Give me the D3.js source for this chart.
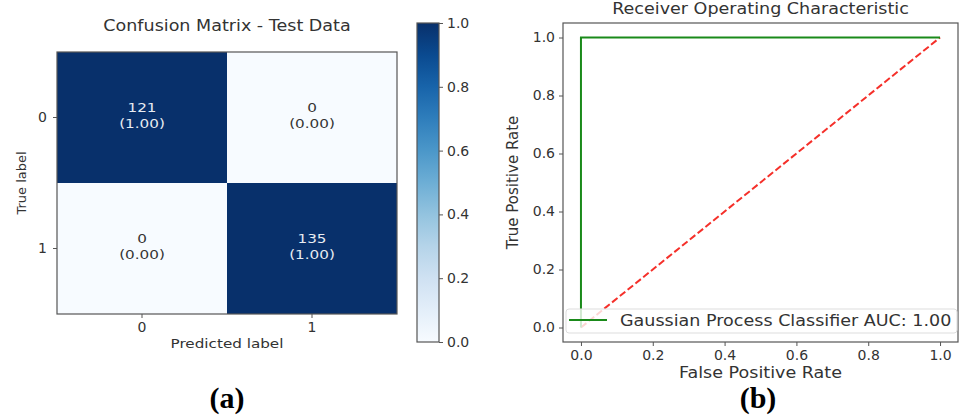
<!DOCTYPE html>
<html>
<head>
<meta charset="utf-8">
<script src="https://cdn.jsdelivr.net/npm/d3@7"></script>
<style>
  body { margin: 0; background: #fff; }
  svg text { font-family: "DejaVu Sans", sans-serif; fill: #333; }
</style>
</head>
<body>
<script>
// confusion matrix data
const classes = ["0", "1"];
const counts = [[121, 0], [0, 135]];
const normalized = [[1.00, 0.00], [0.00, 1.00]];
const colorbarTicks = [0, 0.2, 0.4, 0.6, 0.8, 1.0];

// roc data
const fpr = [0, 0, 1];
const tpr = [0, 1, 1];
const chanceFpr = [0, 1];
const chanceTpr = [0, 1];
const rocTicks = [0, 0.2, 0.4, 0.6, 0.8, 1.0];
const aucLabel = "Gaussian Process Classifier AUC: 1.00";

const width = 970, height = 420;
const stretchX = 1.17; // the source figure text is a bit wide

const svg = d3.select("body").append("svg")
  .attr("width", width)
  .attr("height", height);

// widen text horizontally, keeping the anchor point fixed
function widen(sel, ax) {
  sel.attr("transform", "translate(" + ax * (1 - stretchX) + ",0) scale(" + stretchX + ",1)");
}

// ---- panel (a): confusion matrix ----
const cm = { left: 57, right: 397, top: 52, bottom: 314 };

const x = d3.scaleBand().domain(classes).range([cm.left, cm.right]);
const y = d3.scaleBand().domain(classes).range([cm.top, cm.bottom]);
const color = d3.scaleSequential(d3.interpolateBlues).domain([0, 1]);

let cells = [];
classes.forEach((r, i) => classes.forEach((c, j) => {
  cells.push({ row: r, col: c, count: counts[i][j], value: normalized[i][j] });
}));

svg.append("g").selectAll("rect")
  .data(cells)
  .enter().append("rect")
  .attr("x", d => x(d.col))
  .attr("y", d => y(d.row))
  .attr("width", x.bandwidth())
  .attr("height", y.bandwidth())
  .attr("fill", d => color(d.value));

let cellText = svg.append("g").selectAll("text")
  .data(cells)
  .enter().append("text")
  .attr("text-anchor", "middle")
  .attr("font-size", 13)
  .attr("transform", d => {
    let cx = x(d.col) + x.bandwidth() / 2;
    return "translate(" + cx * (1 - stretchX) + ",0) scale(" + stretchX + ",1)";
  })
  .style("fill", d => d.value > 0.5 ? "#e8ecf2" : "#333");
cellText.append("tspan")
  .attr("x", d => x(d.col) + x.bandwidth() / 2)
  .attr("y", d => y(d.row) + y.bandwidth() / 2 - 5)
  .text(d => d.count);
cellText.append("tspan")
  .attr("x", d => x(d.col) + x.bandwidth() / 2)
  .attr("y", d => y(d.row) + y.bandwidth() / 2 + 11)
  .text(d => "(" + d.value.toFixed(2) + ")");

svg.append("rect")
  .attr("x", cm.left).attr("y", cm.top)
  .attr("width", cm.right - cm.left).attr("height", cm.bottom - cm.top)
  .attr("fill", "none").attr("stroke", "#555").attr("stroke-width", 1.2);

let xAxisA = svg.append("g")
  .attr("transform", "translate(0," + cm.bottom + ")")
  .call(d3.axisBottom(x).tickSize(4).tickPadding(4));
let yAxisA = svg.append("g")
  .attr("transform", "translate(" + cm.left + ",0)")
  .call(d3.axisLeft(y).tickSize(4).tickPadding(6));
[xAxisA, yAxisA].forEach(a => {
  a.select(".domain").remove();
  a.selectAll("line").attr("stroke", "#555");
  a.selectAll("text").attr("font-size", 14).attr("font-family", null);
});

const cmMid = (cm.left + cm.right) / 2;
svg.append("text")
  .attr("x", cmMid).attr("y", 31)
  .attr("text-anchor", "middle").attr("font-size", 15)
  .text("Confusion Matrix - Test Data")
  .call(widen, cmMid);
svg.append("text")
  .attr("x", cmMid).attr("y", 348)
  .attr("text-anchor", "middle").attr("font-size", 13)
  .text("Predicted label")
  .call(widen, cmMid);
svg.append("text")
  .attr("transform", "translate(26," + (cm.top + cm.bottom) / 2 + ") rotate(-90)")
  .attr("text-anchor", "middle").attr("font-size", 13)
  .text("True label");

// colorbar
const cb = { left: 417, right: 439, top: 23, bottom: 342 };
const cbScale = d3.scaleLinear().domain([0, 1]).range([cb.bottom, cb.top]);

const grad = svg.append("defs").append("linearGradient")
  .attr("id", "blues").attr("x1", 0).attr("y1", 1).attr("x2", 0).attr("y2", 0);
d3.range(0, 1.0001, 0.1).forEach(t => {
  grad.append("stop").attr("offset", t).attr("stop-color", color(t));
});
svg.append("rect")
  .attr("x", cb.left).attr("y", cb.top)
  .attr("width", cb.right - cb.left).attr("height", cb.bottom - cb.top)
  .attr("fill", "url(#blues)").attr("stroke", "#555").attr("stroke-width", 1.2);

let cbAxis = svg.append("g")
  .attr("transform", "translate(" + cb.right + ",0)")
  .call(d3.axisRight(cbScale).tickValues(colorbarTicks).tickFormat(d3.format(".1f")).tickSize(4).tickPadding(4));
cbAxis.select(".domain").remove();
cbAxis.selectAll("line").attr("stroke", "#555");
cbAxis.selectAll("text").attr("font-size", 14).attr("font-family", null);

// ---- panel (b): ROC ----
const roc = { left: 563, right: 958, top: 23, bottom: 342 };
const rx = d3.scaleLinear().domain([-0.05, 1.05]).range([roc.left, roc.right]);
const ry = d3.scaleLinear().domain([-0.05, 1.05]).range([roc.bottom, roc.top]);

let xAxisB = svg.append("g")
  .attr("transform", "translate(0," + roc.bottom + ")")
  .call(d3.axisBottom(rx).tickValues(rocTicks).tickFormat(d3.format(".1f")).tickSize(4).tickPadding(4));
let yAxisB = svg.append("g")
  .attr("transform", "translate(" + roc.left + ",0)")
  .call(d3.axisLeft(ry).tickValues(rocTicks).tickFormat(d3.format(".1f")).tickSize(4).tickPadding(4));
[xAxisB, yAxisB].forEach(a => {
  a.select(".domain").remove();
  a.selectAll("line").attr("stroke", "#555");
  a.selectAll("text").attr("font-size", 14).attr("font-family", null);
});

const line = d3.line().x(d => rx(d[0])).y(d => ry(d[1]));

svg.append("path")
  .attr("d", line(chanceFpr.map((v, i) => [v, chanceTpr[i]])))
  .attr("fill", "none").attr("stroke", "#f5302a").attr("stroke-width", 2)
  .attr("stroke-dasharray", "7,3");
svg.append("path")
  .attr("d", line(fpr.map((v, i) => [v, tpr[i]])))
  .attr("fill", "none").attr("stroke", "#1a8a1a").attr("stroke-width", 2);

svg.append("rect")
  .attr("x", roc.left).attr("y", roc.top)
  .attr("width", roc.right - roc.left).attr("height", roc.bottom - roc.top)
  .attr("fill", "none").attr("stroke", "#555").attr("stroke-width", 1.2);

// legend
let legend = svg.append("g").attr("transform", "translate(566,309)");
legend.append("rect")
  .attr("width", 391).attr("height", 24).attr("rx", 3)
  .attr("fill", "#fff").attr("fill-opacity", 0.8)
  .attr("stroke", "#ddd");
legend.append("line")
  .attr("x1", 3).attr("x2", 41).attr("y1", 11).attr("y2", 11)
  .attr("stroke", "#1a8a1a").attr("stroke-width", 2);
legend.append("text")
  .attr("x", 54).attr("y", 17).attr("font-size", 15)
  .text(aucLabel)
  .call(widen, 54);

const rocMid = (roc.left + roc.right) / 2;
svg.append("text")
  .attr("x", rocMid).attr("y", 14)
  .attr("text-anchor", "middle").attr("font-size", 15)
  .text("Receiver Operating Characteristic")
  .call(widen, rocMid);
svg.append("text")
  .attr("x", rocMid).attr("y", 378)
  .attr("text-anchor", "middle").attr("font-size", 15)
  .text("False Positive Rate")
  .call(widen, rocMid);
svg.append("text")
  .attr("transform", "translate(518," + (roc.top + roc.bottom) / 2 + ") rotate(-90)")
  .attr("text-anchor", "middle").attr("font-size", 15)
  .text("True Positive Rate");

// panel captions
svg.selectAll("text.caption")
  .data([["(a)", 227], ["(b)", 758]])
  .enter().append("text")
  .attr("class", "caption")
  .attr("x", d => d[1]).attr("y", 408)
  .attr("text-anchor", "middle")
  .style("font-family", "'Liberation Serif', 'DejaVu Serif', serif")
  .style("font-weight", "bold").style("fill", "#000")
  .attr("font-size", 30)
  .text(d => d[0]);
</script>
</body>
</html>
